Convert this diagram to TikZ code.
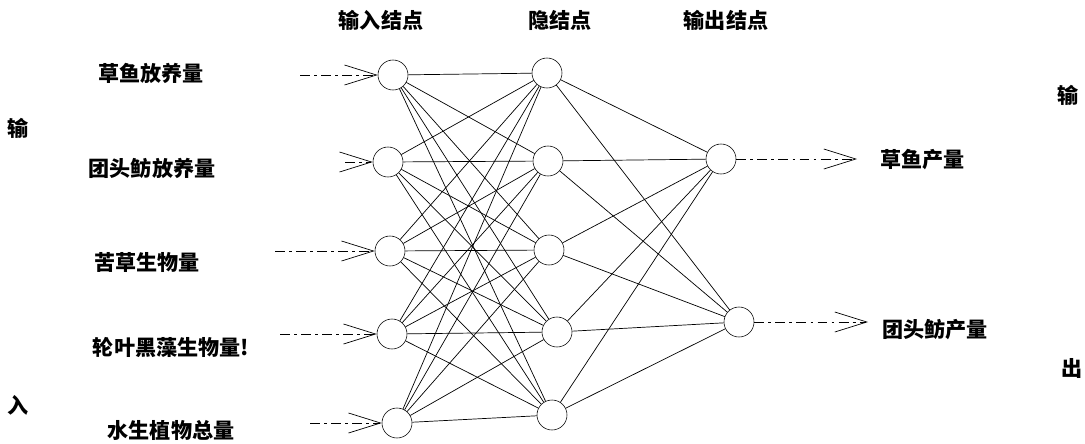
\documentclass[tikz,border=0pt]{standalone}
\usepackage{fontspec}
\setmainfont{Noto Sans CJK SC}
\usepackage{tikz}
\usetikzlibrary{arrows.meta}

\begin{document}
\begin{tikzpicture}[x=0.025cm,y=-0.025cm]
\tikzset{>={Straight Barb[length=8mm,width=5mm]}}
\tikzstyle{neuron} =[circle, draw, thin, inner sep=0pt, minimum size=7.5mm]
\tikzstyle{txt} =[font=\fontsize{15}{18}\selectfont\bfseries, inner sep=0pt]
\tikzstyle{link} =[line width=0.5pt]
\tikzstyle{feed} =[->, line width=0.5pt, dash pattern=on 7pt off 3pt on 2pt off 3pt]
\useasboundingbox (0,0) rectangle (1085,443);

\node[txt](hin) at (381,20){输入结点};
\node[txt](hhid) at (560,20){隐结点};
\node[txt](hout) at (726,20){输出结点};

\node[txt](sin1) at (18,128){输};
\node[txt](sin2) at (18,405){入};
\node[txt](sout1) at (1068,95){输};
\node[txt](sout2) at (1072,368){出};

\node[txt](l1) at (151,73){草鱼放养量};
\node[txt](l2) at (152,168){团头鲂放养量};
\node[txt](l3) at (147,262){苦草生物量};
\node[txt](l4) at (171,347){轮叶黑藻生物量!};
\node[txt](l5) at (171,430){水生植物总量};

\node[neuron](i1) at (393,75){};
\node[neuron](i2) at (388,162){};
\node[neuron](i3) at (390,251){};
\node[neuron](i4) at (392,334){};
\node[neuron](i5) at (397,423){};

\node[neuron](h1) at (547,73){};
\node[neuron](h2) at (548,161){};
\node[neuron](h3) at (549,250){};
\node[neuron](h4) at (557,332){};
\node[neuron](h5) at (552,415){};

\node[neuron](o1) at (721,159){};
\node[neuron](o2) at (739,322){};

\coordinate (x1) at (300,75);
\coordinate (x2) at (345,162);
\coordinate (x3) at (275,251);
\coordinate (x4) at (280,334);
\coordinate (x5) at (310,423);
\coordinate (y1) at (857,159);
\coordinate (y2) at (868,322);

\node[txt,anchor=west](r1) at (880,160){草鱼产量};
\node[txt,anchor=west](r2) at (882,330){团头鲂产量};

\foreach \i in {1,...,5}{
  \draw [feed] (x\i) -- (i\i);
  \foreach \j in {1,...,5}
    \draw [link] (i\i) -- (h\j);
  \draw [link] (h\i) -- (o1);
  \draw [link] (h\i) -- (o2);
}
\draw [feed] (o1) -- (y1);
\draw [feed] (o2) -- (y2);
\end{tikzpicture}
\end{document}
